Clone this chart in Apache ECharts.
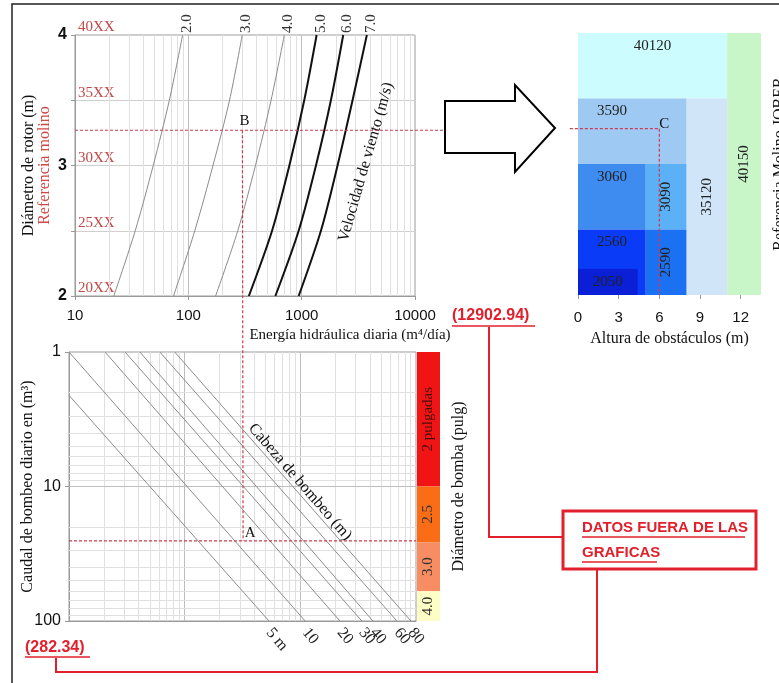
<!DOCTYPE html>
<html>
<head>
<meta charset="utf-8">
<script src="https://cdn.jsdelivr.net/npm/echarts@6/dist/echarts.min.js"></script>
<style>
html, body { margin: 0; padding: 0; background: #fff; }
#chart1 { width: 779px; height: 683px; }
</style>
</head>
<body>
<div id="chart1"></div>
<script>
// curva superior: diametro de rotor vs energia hidraulica, una curva por velocidad de viento
var rotorDiam = [2, 2.5, 3, 3.5, 4];
var refLabels = ['20XX', '25XX', '30XX', '35XX', '40XX'];
var windSpeeds = ['2.0', '3.0', '4.0', '5.0', '6.0', '7.0'];
var energy20 = [22, 34, 49, 68, 89];
var energy30 = [74, 114, 165, 231, 299];
var energy40 = [174, 273, 391, 537, 704];
var energy50 = [342, 548, 779, 1054, 1355];
var energy60 = [586, 941, 1337, 1811, 2326];
var energy70 = [941, 1479, 2073, 2812, 3760];
var energyBySpeed = [energy20, energy30, energy40, energy50, energy60, energy70];

// grafica inferior: cabeza de bombeo
var headLabels = ['5 m', '10', '20', '30', '40', '60', '80'];
var headStartE = [10, 10, 20.5, 30.5, 41, 61, 82];
var headStartQ = [2.1, 1, 1, 1, 1, 1, 1];
var headEndE = [536, 1100, 2200, 3400, 4240, 6840, 9040];
var headEndQ = [100, 100, 100, 100, 100, 100, 100];

// diametro de bomba
var pumpLabels = ['2 pulgadas', '2.5', '3.0', '4.0'];
var pumpFrom = [1, 10, 26, 60];
var pumpTo = [10, 26, 60, 100];
var pumpColors = ['#f01414', '#fa6c16', '#f88c62', '#fdfdc6'];

// referencia molino JOBER por altura de obstaculos
var obstLabels = ['40120', '40150', '35120', '3590', '3060', '3090', '2560', '2050', '2590'];
var obstX0 = [0, 11, 8, 0, 0, 5, 0, 0, 5];
var obstX1 = [11, 13.5, 11, 8, 5, 8, 5, 4.4, 8];
var obstY0 = [3.5, 2, 2, 3, 2.5, 2.5, 2, 2, 2];
var obstY1 = [4, 4, 3.5, 3.5, 3, 3, 2.5, 2.2, 2.5];
var obstLabelX = [5.5, 12.25, 9.5, 2.5, 2.5, 6.5, 2.5, 2.2, 6.5];
var obstVertical = [false, true, true, false, false, true, false, false, true];
var obstColors = ['#ccfcfd', '#c8f6c8', '#d0e6f8', '#9dc9f3', '#3e8cf0', '#5cb0f6', '#0a3cf8', '#0a1fd6', '#1c70f2'];
var obstTicks = [0, 3, 6, 9, 12];

// puntos de lectura
var pointB = [300, 3.27];
var pointA = [320, 25.4];
var pointC = [6, 3.27];

var SERIF = '"Liberation Serif", "Times New Roman", serif';
var SANS = '"Liberation Sans", Arial, sans-serif';
var RED = '#e2202c';
var GUIDE = '#cc3d55';

_initChart();

function logGridValues (from, to) {
    var out = [];
    for (var d = from; d < to; d *= 10) {
        for (var k = 2; k <= 9; k++) out.push(k * d);
    }
    return out;
}

function gridMarkLine (axisKey, minor, major) {
    var data = minor.map(function (v) {
        var o = {}; o[axisKey] = v; return o;
    }).concat(major.map(function (v) {
        var o = { lineStyle: { color: '#bdbdbd' } }; o[axisKey] = v; return o;
    }));
    return {
        silent: true,
        symbol: ['none', 'none'],
        label: { show: false },
        lineStyle: { color: '#e0e0e0', type: 'solid', width: 1 },
        animation: false,
        data: data
    };
}

function _initChart () {
    var myChart = echarts.init(document.getElementById('chart1'));
    var series = [];

    // lineas de cuadricula (log)
    series.push({
        type: 'line', xAxisIndex: 0, yAxisIndex: 0, data: [], z: 1,
        markLine: gridMarkLine('xAxis', logGridValues(10, 10000), [100, 1000])
    });
    series.push({
        type: 'line', xAxisIndex: 1, yAxisIndex: 2, data: [], z: 1,
        markLine: gridMarkLine('xAxis', logGridValues(10, 10000), [100, 1000])
    });
    series.push({
        type: 'line', xAxisIndex: 1, yAxisIndex: 2, data: [], z: 1,
        markLine: gridMarkLine('yAxis', logGridValues(1, 100), [10])
    });

    var topSeriesIndex = series.length;
    windSpeeds.forEach(function (sp, i) {
        var bold = i >= 3;
        var data = rotorDiam.map(function (d, j) {
            var item = { value: [energyBySpeed[i][j], d] };
            if (j === rotorDiam.length - 1) {
                item.label = {
                    show: true, formatter: sp, position: 'top', distance: 2,
                    rotate: 90, align: 'left', verticalAlign: 'middle', offset: [0, 4],
                    color: '#333', fontFamily: SERIF, fontSize: 15
                };
            }
            return item;
        });
        series.push({
            type: 'line', xAxisIndex: 0, yAxisIndex: 0, data: data,
            smooth: 0.3, symbol: 'circle', symbolSize: 0, showSymbol: true,
            lineStyle: { color: bold ? '#111' : '#8a8a8a', width: bold ? 2 : 1 },
            silent: true, z: 5
        });
    });

    var bottomSeriesIndex = series.length;
    headLabels.forEach(function (lab, i) {
        series.push({
            type: 'line', xAxisIndex: 1, yAxisIndex: 2,
            data: [
                { value: [headStartE[i], headStartQ[i]] },
                {
                    value: [headEndE[i], headEndQ[i]],
                    label: {
                        show: true, formatter: lab, position: 'bottom', distance: 9,
                        rotate: -50, align: 'left', verticalAlign: 'middle',
                        color: '#222', fontFamily: SERIF, fontSize: 16
                    }
                }
            ],
            symbol: 'circle', symbolSize: 0, showSymbol: true,
            lineStyle: { color: '#8c8c8c', width: 1 },
            silent: true, z: 5
        });
    });

    series.push({
        type: 'custom', xAxisIndex: 3, yAxisIndex: 4, silent: true,
        data: pumpLabels.map(function (l, i) { return [pumpFrom[i], pumpTo[i]]; }),
        renderItem: function (params, api) {
            var i = params.dataIndex;
            var p0 = api.coord([0, api.value(0)]);
            var p1 = api.coord([1, api.value(1)]);
            return {
                type: 'group',
                children: [
                    { type: 'rect', shape: { x: p0[0], y: p0[1], width: p1[0] - p0[0], height: p1[1] - p0[1] },
                      style: { fill: pumpColors[i] } },
                    { type: 'text', x: (p0[0] + p1[0]) / 2, y: (p0[1] + p1[1]) / 2, rotation: Math.PI / 2,
                      style: { text: pumpLabels[i], fill: i === 0 ? '#4a0c0c' : '#333', font: '15px ' + SERIF,
                               align: 'center', verticalAlign: 'middle' } }
                ]
            };
        }
    });

    var rightSeriesIndex = series.length;
    series.push({
        type: 'custom', xAxisIndex: 2, yAxisIndex: 3, silent: true,
        data: obstLabels.map(function (l, i) {
            return [obstX0[i], obstX1[i], obstY0[i], obstY1[i], obstLabelX[i]];
        }),
        renderItem: function (params, api) {
            var i = params.dataIndex;
            var p0 = api.coord([api.value(0), api.value(3)]);
            var p1 = api.coord([api.value(1), api.value(2)]);
            var lx = api.coord([api.value(4), api.value(3)])[0];
            var txt;
            if (obstVertical[i]) {
                txt = { type: 'text', x: lx, y: (p0[1] + p1[1]) / 2, rotation: Math.PI / 2,
                        style: { text: obstLabels[i], fill: '#222', font: '15px ' + SERIF, align: 'center', verticalAlign: 'middle' } };
            } else {
                txt = { type: 'text', x: lx, y: p0[1] + 13,
                        style: { text: obstLabels[i], fill: '#222', font: '15px ' + SERIF, align: 'center', verticalAlign: 'middle' } };
            }
            return {
                type: 'group',
                children: [
                    { type: 'rect', shape: { x: p0[0], y: p0[1], width: p1[0] - p0[0], height: p1[1] - p0[1] },
                      style: { fill: obstColors[i] } },
                    txt
                ]
            };
        }
    });

    var option = {
        animation: false,
        grid: [
            { left: 75, top: 35, width: 340, height: 261, show: true, borderColor: '#9a9a9a', borderWidth: 1, backgroundColor: 'transparent', outerBoundsMode: 'none' },
            { left: 69, top: 352, width: 347, height: 269, show: true, borderColor: '#9a9a9a', borderWidth: 1, backgroundColor: 'transparent', outerBoundsMode: 'none' },
            { left: 578, top: 33, width: 183, height: 262, outerBoundsMode: 'none' },
            { left: 417, top: 352, width: 23, height: 269, outerBoundsMode: 'none' }
        ],
        xAxis: [
            {
                gridIndex: 0, type: 'log', logBase: 10, min: 10, max: 10000,
                axisLine: { lineStyle: { color: '#9a9a9a' } },
                axisTick: { show: true, length: 4, lineStyle: { color: '#9a9a9a' } },
                splitLine: { show: false },
                axisLabel: { color: '#111', fontFamily: SANS, fontSize: 15, margin: 12,
                             formatter: function (v) { return String(Math.round(v)); } }
            },
            {
                gridIndex: 1, type: 'log', logBase: 10, min: 10, max: 10000,
                axisLine: { lineStyle: { color: '#9a9a9a' } },
                axisTick: { show: false }, splitLine: { show: false }, axisLabel: { show: false }
            },
            {
                gridIndex: 2, type: 'value', min: 0, max: 13.5,
                axisLine: { show: false },
                axisTick: { show: true, length: 4, customValues: obstTicks, lineStyle: { color: '#999' } },
                splitLine: { show: false },
                axisLabel: { customValues: obstTicks, color: '#111', fontFamily: SANS, fontSize: 15, margin: 15 },
                name: 'Altura de obstáculos (m)', nameLocation: 'middle', nameGap: 36, nameMoveOverlap: false,
                nameTextStyle: { color: '#111', fontFamily: SERIF, fontSize: 16 }
            },
            {
                gridIndex: 3, type: 'value', min: 0, max: 1, show: false
            }
        ],
        yAxis: [
            {
                gridIndex: 0, type: 'value', min: 2, max: 4, interval: 0.5,
                axisLine: { lineStyle: { color: '#9a9a9a' } },
                axisTick: { show: true, length: 4, lineStyle: { color: '#9a9a9a' } },
                splitLine: { show: true, lineStyle: { color: '#cfcfcf' } },
                axisLabel: {
                    color: '#111', fontFamily: SANS, fontSize: 16, fontWeight: 'bold', margin: 8,
                    formatter: function (v) { return v % 1 === 0 ? String(v) : ''; }
                },
                name: '{a|Diámetro de rotor (m)}\n{b|Referencia molino}',
                nameLocation: 'middle', nameGap: 22, nameRotate: 90, nameMoveOverlap: false,
                nameTextStyle: {
                    lineHeight: 16,
                    rich: {
                        a: { color: '#111', fontFamily: SERIF, fontSize: 16, lineHeight: 16 },
                        b: { color: '#d04848', fontFamily: SERIF, fontSize: 16, lineHeight: 16 }
                    }
                }
            },
            {
                gridIndex: 0, type: 'value', min: 2, max: 4, interval: 0.5, position: 'left',
                axisLine: { show: false }, axisTick: { show: false }, splitLine: { show: false },
                axisLabel: {
                    inside: true, margin: 3, verticalAlign: 'bottom', showMinLabel: true, showMaxLabel: true,
                    color: '#c04848', fontFamily: SERIF, fontSize: 15,
                    formatter: function (v) { return refLabels[rotorDiam.indexOf(v)] || ''; }
                }
            },
            {
                gridIndex: 1, type: 'log', logBase: 10, min: 1, max: 100, inverse: true,
                axisLine: { lineStyle: { color: '#9a9a9a' } },
                axisTick: { show: true, length: 4, lineStyle: { color: '#9a9a9a' } },
                splitLine: { show: false },
                axisLabel: { color: '#111', fontFamily: SANS, fontSize: 16, margin: 8 },
                name: 'Caudal de bombeo diario en (m³)', nameLocation: 'middle', nameGap: 33, nameRotate: 90,
                nameMoveOverlap: false,
                nameTextStyle: { color: '#111', fontFamily: SERIF, fontSize: 16 }
            },
            {
                gridIndex: 2, type: 'value', min: 2, max: 4, position: 'right',
                axisLine: { show: false }, axisTick: { show: false }, splitLine: { show: false }, axisLabel: { show: false },
                name: 'Referencia Molino JOBER', nameLocation: 'middle', nameGap: 11, nameRotate: 90,
                nameMoveOverlap: false,
                nameTextStyle: { color: '#111', fontFamily: SERIF, fontSize: 16 }
            },
            {
                gridIndex: 3, type: 'log', logBase: 10, min: 1, max: 100, inverse: true, position: 'right',
                axisLine: { show: false }, axisTick: { show: false }, splitLine: { show: false }, axisLabel: { show: false },
                name: 'Diámetro de bomba (pulg)', nameLocation: 'middle', nameGap: 11, nameRotate: 90,
                nameMoveOverlap: false,
                nameTextStyle: { color: '#111', fontFamily: SERIF, fontSize: 16 }
            }
        ],
        series: series
    };
    myChart.setOption(option);

    // lineas guia a partir de los puntos de lectura
    function px (idx, p) { return myChart.convertToPixel({ seriesIndex: idx }, p); }
    var b = px(topSeriesIndex, pointB);
    var bL = px(topSeriesIndex, [10, pointB[1]]);
    var bR = px(topSeriesIndex, [18000, pointB[1]]);
    var a = px(bottomSeriesIndex, pointA);
    var aL = px(bottomSeriesIndex, [10, pointA[1]]);
    var aR = px(bottomSeriesIndex, [10000, pointA[1]]);
    var c = px(rightSeriesIndex, pointC);
    var cL = px(rightSeriesIndex, [-0.6, pointC[1]]);
    var cB = px(rightSeriesIndex, [pointC[0], 2]);

    function dashed (p, q) {
        return { type: 'line', silent: true, z: 20,
                 shape: { x1: p[0], y1: p[1], x2: q[0], y2: q[1] },
                 style: { stroke: GUIDE, lineWidth: 1.2, lineDash: [3, 2] } };
    }
    function txt (x, y, s, font, fill, rot, align) {
        return { type: 'text', x: x, y: y, rotation: rot || 0, silent: true, z: 20,
                 style: { text: s, font: font, fill: fill, align: align || 'center', verticalAlign: 'middle' } };
    }
    function redLine (pts, w) {
        return { type: 'polyline', silent: true, z: 20, shape: { points: pts },
                 style: { stroke: RED, lineWidth: w || 2, fill: null } };
    }

    var g = [
        { type: 'rect', silent: true, z: 0, shape: { x: 12, y: 4, width: 800, height: 720 },
          style: { fill: 'none', stroke: '#222', lineWidth: 1.5 } },
        { type: 'polygon', silent: true, z: 20,
          shape: { points: [[445, 101], [515, 101], [515, 85], [555, 128], [515, 172], [515, 153], [445, 153]] },
          style: { fill: '#fff', stroke: '#000', lineWidth: 2 } },
        txt(350, 335, 'Energía hidráulica diaria (m⁴/día)', '15px ' + SERIF, '#111'),
        txt(366, 162, 'Velocidad de viento (m/s)', '16px ' + SERIF, '#111', 74 * Math.PI / 180),
        txt(300, 482, 'Cabeza de bombeo (m)', '16px ' + SERIF, '#111', -49 * Math.PI / 180),
        dashed(bL, bR), dashed(b, a), dashed(aL, aR), dashed(cL, c), dashed(c, cB),
        txt(b[0] + 2, b[1] - 9, 'B', '15px ' + SERIF, '#111'),
        txt(a[0] + 7, a[1] - 8, 'A', '15px ' + SERIF, '#111'),
        txt(c[0] + 5, c[1] - 5, 'C', '15px ' + SERIF, '#111'),
        // anotaciones en rojo
        txt(452, 316, '(12902.94)', 'bold 16px ' + SANS, RED, 0, 'left'),
        redLine([[452, 326], [535, 326]], 1.5),
        redLine([[489, 327], [489, 537], [563, 537]], 2),
        { type: 'rect', silent: true, z: 20, shape: { x: 563, y: 511, width: 193, height: 58 },
          style: { fill: 'none', stroke: RED, lineWidth: 3 } },
        txt(582, 528, 'DATOS FUERA DE LAS', 'bold 15px ' + SANS, RED, 0, 'left'),
        redLine([[582, 537], [745, 537]], 1.5),
        txt(582, 553, 'GRAFICAS', 'bold 15px ' + SANS, RED, 0, 'left'),
        redLine([[582, 562], [657, 562]], 1.5),
        txt(25, 648, '(282.34)', 'bold 16px ' + SANS, RED, 0, 'left'),
        redLine([[25, 657], [90, 657]], 1.5),
        redLine([[56, 658], [56, 672], [597, 672], [597, 570]], 2)
    ];
    myChart.setOption({ graphic: g });

    window.onresize = myChart.resize;
}
</script>
</body>
</html>
